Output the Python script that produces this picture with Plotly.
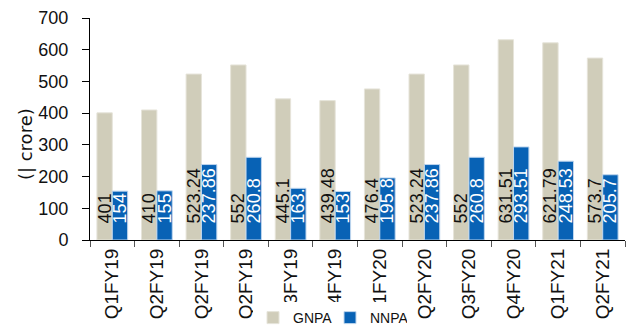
import plotly.graph_objects as go

categories = ["Q1FY19", "Q2FY19", "Q2FY19\u200b", "Q2FY19\u200b\u200b", "Q3FY19", "Q4FY19",
              "Q1FY20", "Q2FY20", "Q3FY20", "Q4FY20", "Q1FY21", "Q2FY21"]
gnpa = [401, 410, 523.24, 552, 445.1, 439.48, 476.4, 523.24, 552, 631.51, 621.79, 573.7]
nnpa = [154, 155, 237.86, 260.8, 163, 153, 195.8, 237.86, 260.8, 293.51, 248.53, 205.7]
gnpa_text = ["401", "410", "523.24", "552", "445.1", "439.48", "476.4", "523.24", "552", "631.51", "621.79", "573.7"]
nnpa_text = ["154", "155", "237.86", "260.8", "163.", "153", "195.8", "237.86", "260.8", "293.51", "248.53", "205.7"]

FONT = "Liberation Sans"
pad = "\u00a0\u00a0\u2009"

fig = go.Figure()
fig.add_trace(go.Bar(
    name="GNPA", x=categories, y=gnpa, text=[pad + t for t in gnpa_text],
    marker=dict(color="#D0CDBA", line=dict(color="#E6E4DA", width=1)),
    textposition="inside", insidetextanchor="start", textangle=-90,
    constraintext="none", cliponaxis=False,
    textfont=dict(family=FONT, size=18, color="#111111"),
))
fig.add_trace(go.Bar(
    name="NNPA", x=categories, y=nnpa, text=[pad + t for t in nnpa_text],
    marker=dict(color="#0862B5", line=dict(color="#BFD6EE", width=1)),
    textposition="inside", insidetextanchor="start", textangle=-90,
    constraintext="none", cliponaxis=False,
    textfont=dict(family=FONT, size=18, color="#FFFFFF"),
))

fig.update_layout(
    width=627, height=329,
    margin=dict(l=90, r=2, t=18, b=89, autoexpand=False),
    paper_bgcolor="white", plot_bgcolor="white",
    barmode="group", bargap=0.31, bargroupgap=0,
    font=dict(family=FONT, color="#111111"),
    showlegend=True,
    legend=dict(orientation="h", x=0.4486, xanchor="center",
                yref="container", y=0.0334, yanchor="middle",
                bgcolor="white", font=dict(family=FONT, size=14, color="#111111"),
                itemwidth=30, tracegroupgap=0, entrywidth=32, entrywidthmode="pixels"),
    annotations=[dict(text="(| crore)", xref="paper", yref="paper", x=-0.1215, y=0.432,
                      xanchor="center", yanchor="middle", textangle=-90, showarrow=False,
                      font=dict(family="DejaVu Sans", size=18, color="#111111"))],
)
fig.update_xaxes(
    showline=True, linecolor="#000000", linewidth=1,
    ticks="outside", tickson="boundaries", ticklen=6, tickcolor="#555555",
    tickangle=-90, tickfont=dict(family=FONT, size=19, color="#111111"),
    showgrid=False, automargin=False,
)
fig.update_yaxes(
    range=[0, 700], dtick=100, showline=True, linecolor="#000000", linewidth=1,
    ticks="outside", ticklen=7, tickcolor="#000000", ticklabelstandoff=10,
    tickfont=dict(family=FONT, size=18, color="#111111"),
    showgrid=False, zeroline=False, automargin=False,
)

fig.write_html("out.html")
